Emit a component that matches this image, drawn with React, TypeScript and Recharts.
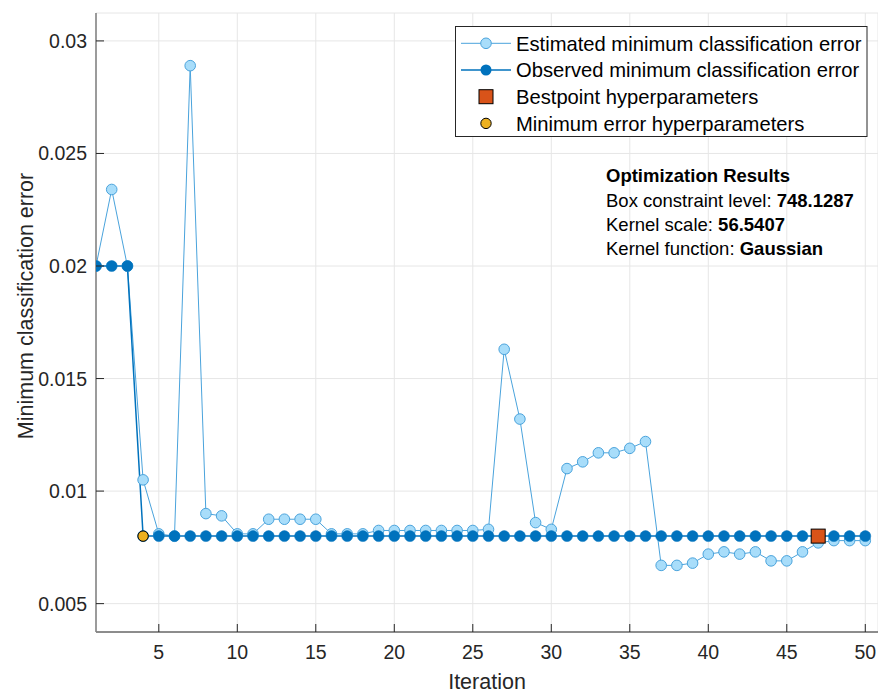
import React from 'react';
import {
  ComposedChart, Line, Scatter, XAxis, YAxis, CartesianGrid,
} from 'recharts';

const iterations = [
  1, 2, 3, 4, 5, 6, 7, 8, 9, 10, 11, 12, 13, 14, 15, 16, 17, 18, 19, 20, 21, 22, 23, 24, 25,
  26, 27, 28, 29, 30, 31, 32, 33, 34, 35, 36, 37, 38, 39, 40, 41, 42, 43, 44, 45, 46, 47, 48, 49, 50,
];

const estimatedError = [
  0.02, 0.0234, 0.02, 0.0105, 0.0081, 0.008, 0.0289, 0.009, 0.0089, 0.0081,
  0.0081, 0.00875, 0.00875, 0.00875, 0.00875, 0.0081, 0.0081, 0.0081, 0.00825, 0.00825,
  0.00825, 0.00825, 0.00825, 0.00825, 0.00825, 0.0083, 0.0163, 0.0132, 0.0086, 0.0083,
  0.011, 0.0113, 0.0117, 0.0117, 0.0119, 0.0122, 0.0067, 0.0067, 0.0068, 0.0072,
  0.0073, 0.0072, 0.0073, 0.0069, 0.0069, 0.0073, 0.0077, 0.0078, 0.0078, 0.0078,
];

const observedError = [
  0.02, 0.02, 0.02, 0.008, 0.008, 0.008, 0.008, 0.008, 0.008, 0.008,
  0.008, 0.008, 0.008, 0.008, 0.008, 0.008, 0.008, 0.008, 0.008, 0.008,
  0.008, 0.008, 0.008, 0.008, 0.008, 0.008, 0.008, 0.008, 0.008, 0.008,
  0.008, 0.008, 0.008, 0.008, 0.008, 0.008, 0.008, 0.008, 0.008, 0.008,
  0.008, 0.008, 0.008, 0.008, 0.008, 0.008, 0.008, 0.008, 0.008, 0.008,
];

const bestPoint = [{ iter: 47, val: 0.008 }];
const minErrorPoint = [{ iter: 4, val: 0.008 }];

const xTicks = [5, 10, 15, 20, 25, 30, 35, 40, 45, 50];
const yTicks = [0.005, 0.01, 0.015, 0.02, 0.025, 0.03];

const legendLabels = [
  'Estimated minimum classification error',
  'Observed minimum classification error',
  'Bestpoint hyperparameters',
  'Minimum error hyperparameters',
];

const resultLines = [
  ['Box constraint level: ', '748.1287'],
  ['Kernel scale: ', '56.5407'],
  ['Kernel function: ', 'Gaussian'],
];

const data = iterations.map((iter, i) => ({
  iter,
  est: estimatedError[i],
  obs: observedError[i],
}));

const FONT = '"Liberation Sans", Arial, Helvetica, sans-serif';
const TEXT = '#262626';
const EST_LINE = '#4aa3dc';
const EST_FILL = '#a8ddfa';
const OBS = '#0072bd';

const YTick = (props: any) => {
  const { x, y, payload } = props;
  return (
    <g>
      <line x1={x + 9} x2={x + 17} y1={y} y2={y} stroke={TEXT} strokeWidth={1} />
      <text x={x} y={y} dy="0.36em" textAnchor="end" fill={TEXT} fontSize={19.5} fontFamily={FONT}>
        {String(payload.value)}
      </text>
    </g>
  );
};

const XTick = (props: any) => {
  const { x, y, payload } = props;
  return (
    <g>
      <line x1={x} x2={x} y1={y - 20} y2={y - 28} stroke={TEXT} strokeWidth={1} />
      <text x={x} y={y} dy="0.36em" textAnchor="middle" fill={TEXT} fontSize={19.5} fontFamily={FONT}>
        {String(payload.value)}
      </text>
    </g>
  );
};

const Square = (props: any) => {
  const { cx, cy } = props;
  return <rect x={cx - 7} y={cy - 7} width={14} height={14} fill="#d95319" stroke="#000" strokeWidth={1} />;
};

const YellowDot = (props: any) => {
  const { cx, cy } = props;
  return <circle cx={cx} cy={cy} r={5.2} fill="#edb120" stroke="#000" strokeWidth={1} />;
};

export default function App() {
  return (
    <div style={{ position: 'absolute', left: 0, top: 0, width: 878, height: 693, background: '#fff', fontFamily: FONT }}>
      <ComposedChart width={878} height={693} data={data} margin={{ top: 13, right: 0, bottom: 0, left: 0 }}>
        <CartesianGrid stroke="#e6e6e6" strokeWidth={1} />
        <XAxis
          dataKey="iter"
          type="number"
          domain={[1, 50.81]}
          ticks={xTicks}
          allowDataOverflow
          height={61}
          tickSize={0}
          tickMargin={20}
          tickLine={false}
          axisLine={{ stroke: TEXT, strokeWidth: 1 }}
          tick={<XTick />}
          interval={0}
        />
        <YAxis
          type="number"
          domain={[0.00374, 0.03124]}
          ticks={yTicks}
          allowDataOverflow
          width={96}
          tickSize={0}
          tickMargin={9}
          tickLine={false}
          axisLine={{ stroke: '#858585', strokeWidth: 1.6 }}
          tick={<YTick />}
          interval={0}
        />
        <Line
          dataKey="est"
          stroke={EST_LINE}
          strokeWidth={1}
          dot={{ r: 5.3, fill: EST_FILL, stroke: EST_LINE, strokeWidth: 1 }}
          isAnimationActive={false}
        />
        <Line
          dataKey="obs"
          stroke={OBS}
          strokeWidth={1.5}
          dot={{ r: 5.5, fill: OBS, stroke: OBS, strokeWidth: 0.5 }}
          isAnimationActive={false}
        />
        <Scatter data={minErrorPoint} dataKey="val" shape={<YellowDot />} isAnimationActive={false} />
        <Scatter data={bestPoint} dataKey="val" shape={<Square />} isAnimationActive={false} />
      </ComposedChart>

      <svg width={878} height={693} style={{ position: 'absolute', left: 0, top: 0, pointerEvents: 'none' }}>
        <text
          x={25}
          y={306}
          transform="rotate(-90 25 306)"
          textAnchor="middle"
          dy="0.36em"
          fontSize={21.5}
          fill={TEXT}
          fontFamily={FONT}
        >
          Minimum classification error
        </text>
        <text x={487} y={681} textAnchor="middle" dy="0.36em" fontSize={21.5} fill={TEXT} fontFamily={FONT}>
          Iteration
        </text>

        <rect x={455.5} y={26.5} width={411.5} height={110} fill="#fff" stroke="#262626" strokeWidth={1} />
        {legendLabels.map((label, i) => {
          const cy = 43.3 + i * 26.7;
          return (
            <g key={label}>
              {i === 0 && (
                <g>
                  <line x1={461} x2={511} y1={cy} y2={cy} stroke={EST_LINE} strokeWidth={1} />
                  <circle cx={486} cy={cy} r={5.3} fill={EST_FILL} stroke={EST_LINE} />
                </g>
              )}
              {i === 1 && (
                <g>
                  <line x1={461} x2={511} y1={cy} y2={cy} stroke={OBS} strokeWidth={1.5} />
                  <circle cx={486} cy={cy} r={5.5} fill={OBS} />
                </g>
              )}
              {i === 2 && <rect x={479} y={cy - 7} width={14} height={14} fill="#d95319" stroke="#000" />}
              {i === 3 && <circle cx={486} cy={cy} r={5.2} fill="#edb120" stroke="#000" />}
              <text x={516} y={cy} dy="0.36em" fontSize={20.2} fill="#000" fontFamily={FONT}>
                {label}
              </text>
            </g>
          );
        })}

        <text x={606} y={175.7} dy="0.36em" fontSize={18.5} fontWeight="bold" fill="#000" fontFamily={FONT}>
          Optimization Results
        </text>
        {resultLines.map(([name, value], i) => (
          <text key={name} x={606} y={200 + i * 24.2} dy="0.36em" fontSize={18.5} fill="#000" fontFamily={FONT}>
            {name}
            <tspan fontWeight="bold">{value}</tspan>
          </text>
        ))}
      </svg>
    </div>
  );
}
